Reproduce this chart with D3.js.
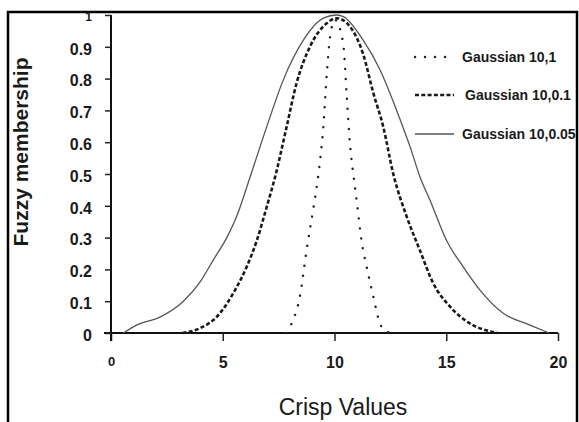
<!DOCTYPE html>
<html>
<head>
<meta charset="utf-8">
<script src="https://cdn.jsdelivr.net/npm/d3@7"></script>
<style>
  body { margin: 0; background: #fff; }
  text { font-family: "Liberation Sans", Arial, sans-serif; fill: #1a1a1a; }
</style>
</head>
<body>
<div id="cnv"></div>
<script>
var width = 579, height = 422;

// values
var xTicks = [0, 5, 10, 15, 20];
var yTicks = [0, 0.1, 0.2, 0.3, 0.4, 0.5, 0.6, 0.7, 0.8, 0.9, 1];
var seriesNames = ["Gaussian 10,1", "Gaussian 10,0.1", "Gaussian 10,0.05"];

var g1X = [7.86, 8.08, 8.45, 8.75, 9.05, 9.3, 9.5, 9.65, 9.8, 10.02, 10.39, 10.54, 10.69, 10.84, 10.99, 11.21, 11.44, 11.74, 12.03, 12.33, 12.7];
var g1Y = [0, 0.03, 0.114, 0.26, 0.39, 0.51, 0.649, 0.81, 0.93, 0.985, 0.91, 0.754, 0.596, 0.50, 0.418, 0.29, 0.208, 0.114, 0.03, 0.004, 0];

var g2X = [3.2, 3.98, 4.72, 5.47, 6.07, 6.52, 6.97, 7.34, 7.86, 8.3, 8.9, 9.65, 10.1, 10.7, 11.29, 11.74, 12.18, 12.63, 13.23, 13.82, 14.42, 15.17, 16.06, 17.03, 17.3];
var g2Y = [0, 0.015, 0.05, 0.125, 0.208, 0.29, 0.397, 0.49, 0.649, 0.785, 0.90, 0.974, 0.99, 0.963, 0.875, 0.754, 0.649, 0.50, 0.366, 0.26, 0.156, 0.083, 0.03, 0.004, 0];

var g3X = [0.55, 1.15, 2.19, 3.24, 3.98, 4.58, 5.18, 5.62, 6.22, 6.97, 7.71, 8.6, 9.5, 10.1, 10.4, 11.29, 12.04, 12.78, 13.38, 13.83, 14.27, 15.02, 15.76, 16.51, 17.55, 18.75, 19.6];
var g3Y = [0, 0.025, 0.05, 0.10, 0.16, 0.23, 0.30, 0.366, 0.49, 0.649, 0.796, 0.92, 0.99, 1.0, 0.995, 0.92, 0.827, 0.70, 0.586, 0.49, 0.418, 0.29, 0.208, 0.135, 0.062, 0.025, 0];

var svg = d3.select("#cnv").append("svg")
  .attr("width", width)
  .attr("height", height);

// outer frame
svg.append("rect")
  .attr("x", 8).attr("y", 12)
  .attr("width", 569).attr("height", 430)
  .attr("fill", "none")
  .attr("stroke", "#000")
  .attr("stroke-width", 2.5);

var xScale = d3.scaleLinear().domain([0, 20]).range([111, 558]);
var yScale = d3.scaleLinear().domain([0, 1]).range([333, 15]);

// x axis
var xAxis = svg.append("g")
  .attr("transform", "translate(0," + yScale(0) + ")")
  .call(d3.axisBottom(xScale).tickValues(xTicks).tickSize(8).tickSizeOuter(0).tickFormat(d3.format("d")));
xAxis.select(".domain").attr("stroke", "#111").attr("stroke-width", 2)
  .attr("d", "M104,0H" + xScale(20));
xAxis.selectAll(".tick line").attr("stroke", "#222").attr("stroke-width", 1.5);
xAxis.selectAll(".tick text")
  .attr("y", 24)
  .style("font-size", function(d){ return d == 0 ? "13px" : "16px"; })
  .style("font-weight", "bold");

// y axis
var yAxis = svg.append("g")
  .attr("transform", "translate(" + xScale(0) + ",0)")
  .call(d3.axisLeft(yScale).tickValues(yTicks).tickSize(6).tickSizeOuter(0)
    .tickFormat(function(d){ return d == 0 || d == 1 ? d : d3.format(".1f")(d); }));
yAxis.select(".domain").attr("stroke", "#111").attr("stroke-width", 2)
  .attr("d", "M0," + yScale(1) + "V" + (yScale(0) + 8));
yAxis.selectAll(".tick line").attr("stroke", "#222").attr("stroke-width", 1.5);
yAxis.selectAll(".tick text")
  .attr("x", -19)
  .attr("dy", "0.45em")
  .style("font-size", function(d){ return d == 1 ? "12px" : "16px"; })
  .style("font-weight", "bold");

//axis labels
svg.append("text")
  .attr("text-anchor", "middle")
  .attr("transform", "translate(343,415)")
  .style("font-size", "23px")
  .text("Crisp Values");
svg.append("text")
  .attr("text-anchor", "middle")
  .attr("transform", "translate(28,152) rotate(-90)")
  .style("font-size", "21px")
  .style("font-weight", "bold")
  .text("Fuzzy membership");

var styles = [
  {stroke: "#222", width: 2.4, dash: "0.1,9.9", cap: "round"},
  {stroke: "#1a1a1a", width: 2.6, dash: "4,2.3", cap: "butt"},
  {stroke: "#555", width: 1.3, dash: null, cap: "butt"}
];
var seriesX = [g1X, g2X, g3X], seriesY = [g1Y, g2Y, g3Y];

var line = d3.line()
  .x(function(d){ return xScale(d[0]); })
  .y(function(d){ return yScale(d[1]); })
  .curve(d3.curveMonotoneX);

seriesX.forEach(function(xs, i){
  var pts = xs.map(function(x, j){ return [x, seriesY[i][j]]; });
  svg.append("path")
    .datum(pts)
    .attr("d", line)
    .attr("fill", "none")
    .attr("stroke", styles[i].stroke)
    .attr("stroke-width", styles[i].width)
    .attr("stroke-dasharray", styles[i].dash)
    .attr("stroke-linecap", styles[i].cap);
});

// legend
var legendY = [57, 95, 134];
seriesNames.forEach(function(name, i){
  svg.append("line")
    .attr("x1", 415).attr("x2", 454)
    .attr("y1", legendY[i]).attr("y2", legendY[i])
    .attr("stroke", styles[i].stroke)
    .attr("stroke-width", styles[i].width)
    .attr("stroke-dasharray", styles[i].dash)
    .attr("stroke-linecap", styles[i].cap);
  svg.append("text")
    .attr("x", i == 1 ? 465 : 462)
    .attr("y", legendY[i] + 5)
    .style("font-size", "14px")
    .style("font-weight", "bold")
    .text(name);
});
</script>
</body>
</html>
